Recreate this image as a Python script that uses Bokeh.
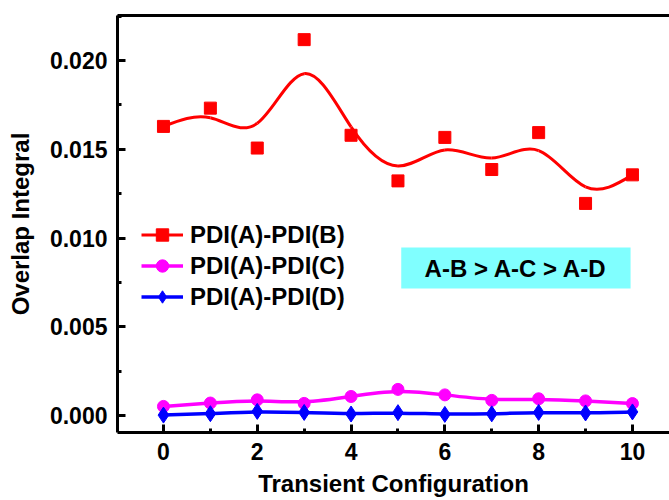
from bokeh.plotting import figure
from bokeh.models import (Range1d, LinearAxis, SingleIntervalTicker, FixedTicker,
                          PrintfTickFormatter, Legend, LegendItem, BoxAnnotation,
                          Label, ColumnDataSource)
from bokeh.embed import file_html
from bokeh.resources import INLINE

# ---------------- data ----------------
config = [0, 1, 2, 3, 4, 5, 6, 7, 8, 9, 10]
ab_values = [0.01629, 0.01732, 0.01507, 0.02118, 0.01579, 0.01322,
             0.01567, 0.01386, 0.01594, 0.01195, 0.01356]
ac_values = [0.00051, 0.00070, 0.00088, 0.00068, 0.00107, 0.00147,
             0.00116, 0.00085, 0.00094, 0.00082, 0.00067]
ad_values = [0.00002, 0.00010, 0.00023, 0.00017, 0.00008, 0.00016,
             0.00006, 0.00009, 0.00017, 0.00014, 0.00020]
series_names = ["PDI(A)-PDI(B)", "PDI(A)-PDI(C)", "PDI(A)-PDI(D)"]
note_text = "A-B > A-C > A-D"
x_title = "Transient Configuration"
y_title = "Overlap Integral"

FONT = "Liberation Sans"


def bspline_segments(xs, ys):
    """Uniform cubic B-spline (control points = data, clamped ends),
    expressed as cubic Bezier segments for Bokeh's bezier glyph."""
    def ext(v):
        return [2 * v[0] - v[1]] + list(v) + [2 * v[-1] - v[-2]]
    X, Y = ext(xs), ext(ys)
    d = dict(x0=[], y0=[], cx0=[], cy0=[], cx1=[], cy1=[], x1=[], y1=[])
    for i in range(1, len(X) - 2):
        for V, k0, kc0, kc1, k1 in ((X, "x0", "cx0", "cx1", "x1"),
                                    (Y, "y0", "cy0", "cy1", "y1")):
            a, b, c, e = V[i - 1], V[i], V[i + 1], V[i + 2]
            d[k0].append((a + 4 * b + c) / 6)
            d[kc0].append((2 * b + c) / 3)
            d[kc1].append((b + 2 * c) / 3)
            d[k1].append((b + 4 * c + e) / 6)
    return ColumnDataSource(d)


p = figure(width=669, height=500, output_backend="svg", toolbar_location=None,
           x_range=Range1d(-0.98, 10.79), y_range=Range1d(-0.00096, 0.02254),
           x_axis_location=None, y_axis_location=None,
           min_border_left=117, min_border_right=0, min_border_top=15,
           min_border_bottom=68)
p.outline_line_color = None
p.xgrid.visible = False
p.ygrid.visible = False
p.background_fill_color = "white"
p.border_fill_color = "white"

xax = LinearAxis(ticker=SingleIntervalTicker(interval=2, num_minor_ticks=2),
                 axis_label=x_title)
yax = LinearAxis(ticker=SingleIntervalTicker(interval=0.005, num_minor_ticks=2),
                 formatter=PrintfTickFormatter(format="%.3f"),
                 axis_label=y_title)

for ax in (xax, yax):
    ax.axis_line_width = 3
    ax.axis_line_color = "black"
    ax.major_tick_line_width = 3
    ax.minor_tick_line_width = 3
    ax.major_tick_in = 8
    ax.major_tick_out = 0
    ax.minor_tick_in = 4
    ax.minor_tick_out = 0
    ax.major_label_text_font = FONT
    ax.major_label_text_font_style = "bold"
    ax.major_label_text_font_size = "23px"
    ax.major_label_text_color = "black"
    ax.axis_label_text_font = FONT
    ax.axis_label_text_font_style = "bold"
    ax.axis_label_text_font_size = "24px"
    ax.axis_label_text_color = "black"

xax.major_label_standoff = 10
xax.axis_label_standoff = 7
yax.major_label_standoff = 10
yax.axis_label_standoff = 13
p.add_layout(xax, "below")
p.add_layout(yax, "left")

# top border line
top_axis = LinearAxis(ticker=FixedTicker(ticks=[]), axis_line_width=3,
                      axis_line_color="black", major_label_text_font_size="0px",
                      major_tick_line_color=None, minor_tick_line_color=None)
p.add_layout(top_axis, "above")

# annotation box
p.add_layout(BoxAnnotation(left=5.07, right=9.96, bottom=0.00715, top=0.00946,
                           fill_color="#80ffff", fill_alpha=1.0, line_color=None))
p.add_layout(Label(x=7.515, y=0.0083, text=note_text, text_align="center",
                   text_baseline="middle", text_font=FONT, text_font_style="bold",
                   text_font_size="24px", text_color="black"))

styles = [
    (ab_values, "#ff0000", "square", 12, 3),
    (ac_values, "#ff00ff", "circle", 12, 3.5),
    (ad_values, "#0000ff", "diamond", 16, 3.5),
]
items = []
for name, (vals, color, marker, size, lw) in zip(series_names, styles):
    seg = bspline_segments(config, vals)
    r_line = p.bezier(x0="x0", y0="y0", x1="x1", y1="y1", cx0="cx0", cy0="cy0",
                      cx1="cx1", cy1="cy1", source=seg, line_color=color,
                      line_width=lw)
    src = ColumnDataSource(dict(x=config, y=vals))
    r_pts = p.scatter("x", "y", source=src, marker=marker, size=size,
                      fill_color=color, line_color=color, line_width=1)
    items.append(LegendItem(label=name, renderers=[r_line, r_pts]))

legend = Legend(items=items, location=(24, 120), orientation="vertical",
                background_fill_alpha=0, border_line_color=None, padding=0,
                margin=0, spacing=0, glyph_width=42, glyph_height=31,
                label_standoff=7, label_text_font=FONT,
                label_text_font_style="bold", label_text_font_size="24px",
                label_text_color="black", label_height=31)
p.add_layout(legend, "center")

open("out.html", "w").write(file_html(p, INLINE))
